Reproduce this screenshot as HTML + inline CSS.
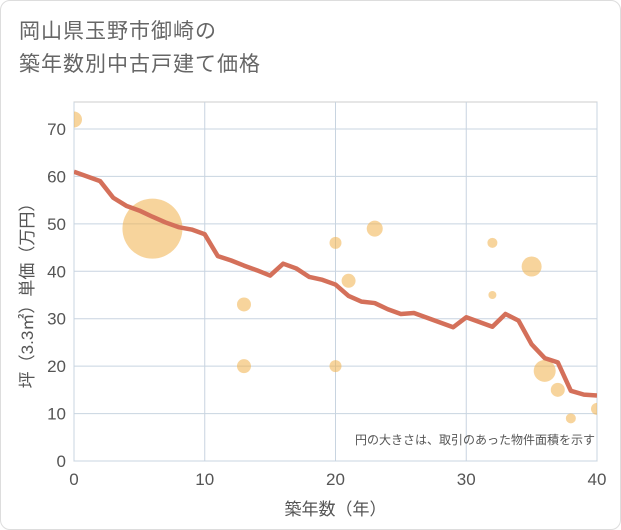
<!DOCTYPE html>
<html><head><meta charset="utf-8">
<style>
body{margin:0;background:#fff;}
#wrap{position:relative;width:621px;height:530px;box-sizing:border-box;border:1px solid #ddd;border-radius:10px;overflow:hidden;background:#fff;font-family:"Liberation Sans","Noto Sans CJK JP",sans-serif;}
#title{position:absolute;left:18px;top:14px;font-size:21px;line-height:33px;color:#666;letter-spacing:1px;}
svg{position:absolute;left:0;top:0;}
</style></head><body>
<div id="wrap">
<div id="title">岡山県玉野市御崎の<br>築年数別中古戸建て価格</div>
<svg id="chart" width="621" height="530"></svg>
</div>
<script>
const lineYears=[0,2,3,4,5,6,7,8,9,10,11,12,13,14,15,16,17,18,19,20,21,22,23,24,25,26,27,28,29,30,31,32,33,34,35,36,37,38,39,40];
const lineValues=[61,59,55.5,53.8,52.8,51.5,50.3,49.3,48.8,47.8,43.2,42.3,41.2,40.2,39.1,41.6,40.6,38.8,38.2,37.2,34.8,33.6,33.3,32,31,31.2,30.2,29.2,28.2,30.3,29.3,28.3,31,29.6,24.6,21.7,20.8,14.8,14,13.8];
const bubbleYears=[0,6,13,13,20,20,21,23,32,32,35,36,37,38,40];
const bubbleValues=[72,49,33,20,46,20,38,49,46,35,41,19,15,9,11];
const bubbleSizes=[8,30,7,7,6,6,7,8,5,4,10,11,7,5,6];
const xTicks=[0,10,20,30,40];
const yTicks=[0,10,20,30,40,50,60,70];
const NS="http://www.w3.org/2000/svg";
const svg=document.getElementById('chart');
const L=73,R=596,T=101,B=460;
const xs=v=>L+(v/40)*(R-L);
const ys=v=>B-(v/70)*(460-128);
function mk(t,a,p){const e=document.createElementNS(NS,t);for(const k in a)e.setAttribute(k,a[k]);(p||svg).appendChild(e);return e;}
const defs=mk('defs',{});
const cp=mk('clipPath',{id:'cp'},defs);mk('rect',{x:L,y:T,width:R-L,height:B-T},cp);
const bg=mk('rect',{x:L,y:T,width:R-L,height:B-T,fill:'#fff',stroke:'#ccc'});


xTicks.forEach(v=>{const g=mk('line',{x1:xs(v),x2:xs(v),y1:T,y2:B,stroke:'#c8d4e0'});


const t=mk('text',{x:xs(v),y:B+24,'text-anchor':'middle','font-size':17,fill:'#555'});t.textContent=v;

});
yTicks.forEach(v=>{const g=mk('line',{x1:L,x2:R,y1:ys(v),y2:ys(v),stroke:'#c8d4e0'});


const t=mk('text',{x:L-8,y:ys(v)+6,'text-anchor':'end','font-size':17,fill:'#555'});t.textContent=v;

});
const gb=mk('g',{'clip-path':'url(#cp)'});
bubbleYears.forEach((y,i)=>{const c=mk('circle',{cx:xs(y),cy:ys(bubbleValues[i]),r:bubbleSizes[i],fill:'#f0b04a','fill-opacity':0.55},gb);

});
const pl=mk('polyline',{points:lineYears.map((y,i)=>xs(y)+','+ys(lineValues[i])).join(' '),fill:'none',stroke:'#d4705a','stroke-width':4.5,'stroke-linejoin':'round'},gb);


const note=mk('text',{x:R-2,y:443,'text-anchor':'end','font-size':12,fill:'#555'});note.textContent='円の大きさは、取引のあった物件面積を示す';


const xl=mk('text',{x:(L+R)/2,y:514,'text-anchor':'middle','font-size':17,fill:'#555'});xl.textContent='築年数（年）';


const yl=mk('text',{x:0,y:0,'text-anchor':'middle','font-size':17,fill:'#555',transform:'translate(32,'+((T+B)/2+10)+') rotate(-90)'});yl.textContent='坪（3.3㎡）単価（万円）';


</script>
</body></html>
